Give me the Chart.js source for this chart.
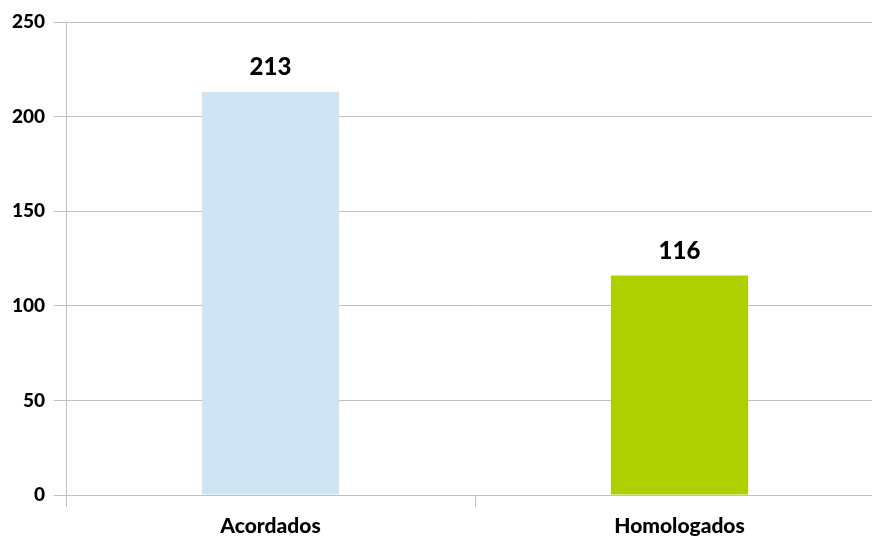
<!DOCTYPE html>
<html>
<head>
<meta charset="utf-8">
<script src="https://cdn.jsdelivr.net/npm/chart.js@4/dist/chart.umd.min.js"></script>
<style>
  html, body { margin: 0; padding: 0; background: #fff; overflow: hidden; width: 872px; height: 540px; }
  #clip { width: 872px; height: 540px; overflow: hidden; position: relative; }
  #wrap { width: 884px; height: 540px; position: absolute; left: 0; top: 0; }
</style>
</head>
<body>
<div id="clip"><div id="wrap"><canvas id="barChart"></canvas></div></div>
<script>
const categories = ['Acordados', 'Homologados'];
const values = [213, 116];
const barColors = ['#cfe5f3', '#aed000'];
const yTicks = [0, 50, 100, 150, 200, 250];

const font = 'Lato, "Liberation Sans", sans-serif';
const gridColor = '#c0c0c0';

// only the left edge and the divider between the two categories get a tick mark
const xTickColor = (c) => (c.index === 0 || c.index === 1) ? gridColor : 'rgba(0,0,0,0)';

// draws the value above each bar
const valueLabels = {
  id: 'valueLabels',
  afterDatasetsDraw(chart) {
    const ctx = chart.ctx;
    const meta = chart.getDatasetMeta(0);
    ctx.save();
    ctx.font = '900 24px ' + font;
    ctx.fillStyle = '#000';
    ctx.textAlign = 'center';
    ctx.textBaseline = 'alphabetic';
    meta.data.forEach((bar, i) => {
      ctx.fillText(values[i], bar.x, bar.y - 17);
    });
    ctx.restore();
  }
};

const ctx = document.getElementById('barChart').getContext('2d');
new Chart(ctx, {
  type: 'bar',
  data: {
    labels: categories,
    datasets: [{
      data: values,
      backgroundColor: barColors,
      borderWidth: 0,
      categoryPercentage: 1,
      barPercentage: 0.335
    }]
  },
  options: {
    responsive: true,
    maintainAspectRatio: false,
    animation: false,
    layout: { padding: { top: 22, right: 0, left: 0, bottom: 0 } },
    plugins: {
      legend: { display: false },
      tooltip: { enabled: false }
    },
    scales: {
      x: {
        grid: {
          offset: true,
          drawOnChartArea: false,
          drawTicks: true,
          tickLength: 12,
          color: xTickColor,
          tickColor: xTickColor
        },
        border: { color: gridColor },
        ticks: {
          color: '#000',
          padding: 7,
          font: { family: font, size: 21, weight: '900' }
        },
        afterFit(scale) { scale.height = 45; }
      },
      y: {
        min: 0,
        max: 250,
        afterBuildTicks(scale) { scale.ticks = yTicks.map(v => ({ value: v })); },
        grid: {
          color: gridColor,
          tickLength: 12,
          drawTicks: true
        },
        border: { color: gridColor },
        ticks: {
          color: '#000',
          padding: 9,
          font: { family: font, size: 19, weight: '900' }
        },
        afterFit(scale) { scale.width = 66; }
      }
    }
  },
  plugins: [valueLabels]
});
</script>
</body>
</html>
